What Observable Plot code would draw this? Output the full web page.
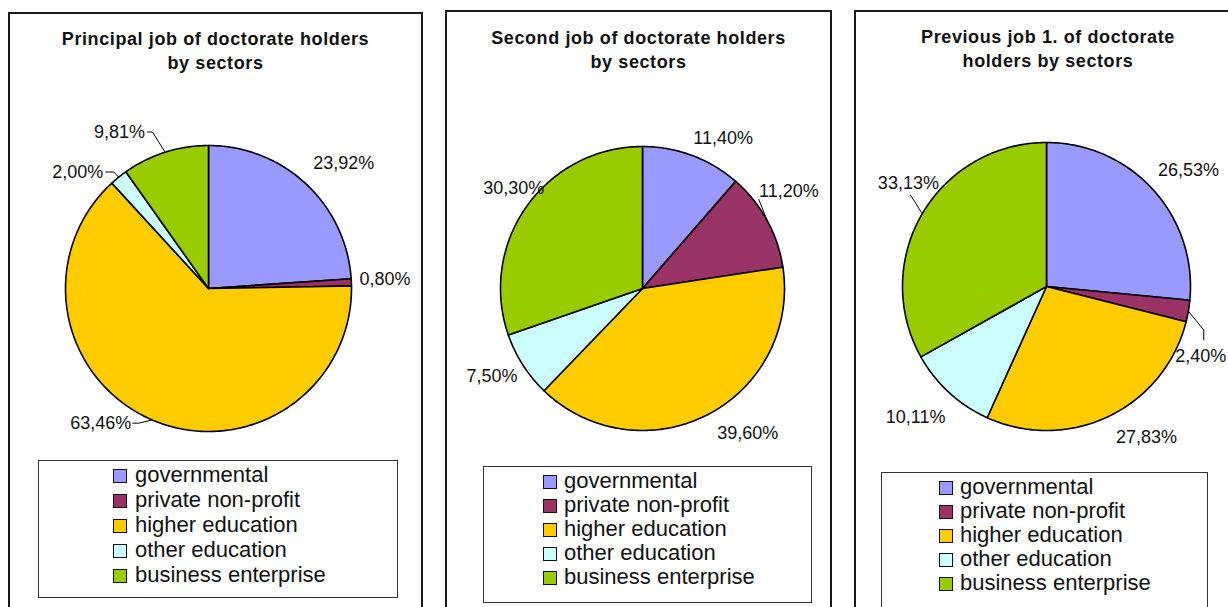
<!DOCTYPE html>
<html><head><meta charset="utf-8">
<script src="https://cdn.jsdelivr.net/npm/d3@7"></script>
<script src="https://cdn.jsdelivr.net/npm/@observablehq/plot@0.6"></script>
<style>
html,body{margin:0;padding:0;background:#fff;width:1228px;height:607px;overflow:hidden;font-family:"Liberation Sans",Arial,sans-serif;}
#root{position:relative;width:1228px;height:607px;overflow:hidden;}
.frame{position:absolute;border:2px solid #1c1c1c;border-bottom:none;box-sizing:border-box;height:700px;}
.title{position:absolute;text-align:center;font-weight:bold;font-size:18px;letter-spacing:0.6px;line-height:24px;color:#111;white-space:nowrap;}
.plot{position:absolute;top:0;}
.legend{position:absolute;border:1px solid #333;box-sizing:border-box;}
.row{position:absolute;font-size:22px;line-height:24px;color:#111;white-space:nowrap;}
.sw{position:absolute;width:14px;height:14px;border:1.5px solid #111;box-sizing:border-box;}
</style>
</head><body><div id="root"></div>
<script>
// ---------- data ----------
const sectors = ["governmental", "private non-profit", "higher education", "other education", "business enterprise"];
const sectorColors = ["#9999FF", "#993366", "#FFCC00", "#CCFFFF", "#99CC00"];
const principalJob = [23.92, 0.80, 63.46, 2.00, 9.81];
const secondJob = [11.40, 11.20, 39.60, 7.50, 30.30];
const previousJob1 = [26.53, 2.40, 27.83, 10.11, 33.13];
const chartTitles = [
  ["Principal job of doctorate holders", "by sectors"],
  ["Second job of doctorate holders", "by sectors"],
  ["Previous job 1. of doctorate", "holders by sectors"]
];
const chartValues = [principalJob, secondJob, previousJob1];

// ---------- layout ----------
const layout = [
  {frame: {left: 8, top: 12, width: 415}, titleY: 27, pie: {cx: 208, cy: 288, r: 143},
   legend: {left: 38, top: 460, width: 360, height: 138, swatchX: 113, textX: 135, rowY: 476, step: 25},
   nudges: [[18, 0], [5, -2], [-40, -23], [-23, 17], [-37, 7]],
   leaders: {2: [[32, 0], [38, 0]], 3: [[28, 0], [36, 0]], 4: [[28, 0], [33, 0]]}},
  {frame: {left: 445, top: 10, width: 387}, titleY: 26, pie: {cx: 642, cy: 288, r: 142},
   legend: {left: 483, top: 466, width: 329, height: 137, swatchX: 543, textX: 564, rowY: 482, step: 24},
   nudges: [[21, 9], [-3, -15], [27, -7], [-7, -4], [10, -1]],
   leaders: {1: [[-30, 8]]}},
  {frame: {left: 854, top: 10, width: 388}, titleY: 25, pie: {cx: 1046, cy: 286, r: 144},
   legend: {left: 881, top: 472, width: 327, height: 160, swatchX: 939, textX: 960, rowY: 488, step: 24},
   nudges: [[14, 0], [-16, 40], [25, -5], [-14, 3], [11, -16]],
   leaders: {1: [[3, -16], [3, -26]], 4: [[2, 12], [6, 18]]}}
];

const fmt = v => v.toFixed(2).replace(".", ",") + "%";
const root = document.getElementById("root");

chartValues.forEach((values, ci) => {
  const L = layout[ci];
  const {cx, cy, r} = L.pie;
  const left = L.frame.left;
  const W = L.frame.width;

  // frame
  const fr = document.createElement("div");
  fr.className = "frame";
  Object.assign(fr.style, {left: left + "px", top: L.frame.top + "px", width: W + "px"});
  root.appendChild(fr);

  // title
  const t = document.createElement("div");
  t.className = "title";
  Object.assign(t.style, {left: left + "px", width: W + "px", top: L.titleY + "px"});
  t.innerHTML = chartTitles[ci].join("<br>");
  root.appendChild(t);

  // slices
  const arcs = d3.pie().sort(null).value(d => d)(values);
  const slicePts = [];
  arcs.forEach((a, i) => {
    const n = Math.max(2, Math.ceil((a.endAngle - a.startAngle) / (Math.PI / 180)));
    slicePts.push({key: i, sector: sectors[i], x: 0, y: 0});
    for (let k = 0; k <= n; k++) {
      const ang = a.startAngle + (a.endAngle - a.startAngle) * k / n;
      slicePts.push({key: i, sector: sectors[i], x: Math.sin(ang), y: Math.cos(ang)});
    }
  });

  // labels
  const labels = arcs.map((a, i) => {
    const m = (a.startAngle + a.endAngle) / 2;
    const [nx, ny] = L.nudges[i];
    return {i, mid: m, text: fmt(values[i]), x: 1.2 * Math.sin(m) + nx / r, y: 1.2 * Math.cos(m) - ny / r};
  });

  // leader lines
  const leaderPts = [];
  Object.entries(L.leaders).forEach(([idx, offs]) => {
    const lab = labels[+idx];
    offs.forEach(([ox, oy]) => leaderPts.push({key: idx, x: lab.x + ox / r, y: lab.y - oy / r}));
    leaderPts.push({key: idx, x: Math.sin(lab.mid), y: Math.cos(lab.mid)});
  });

  const plot = Plot.plot({
    width: W, height: 607, margin: 0,
    x: {domain: [-1, 1], range: [cx - r - left, cx + r - left]},
    y: {domain: [-1, 1], range: [cy + r, cy - r]},
    color: {domain: sectors, range: sectorColors},
    axis: null,
    style: {background: "transparent", overflow: "visible"},
    marks: [
      Plot.line(slicePts, {x: "x", y: "y", z: "key", fill: "sector", stroke: "#000", strokeWidth: 1.6, strokeLinejoin: "round", curve: "linear-closed"}),
      Plot.line(leaderPts, {x: "x", y: "y", z: "key", stroke: "#000", strokeWidth: 1}),
      Plot.text(labels, {x: "x", y: "y", text: "text", fontSize: 18, fill: "#111", fontFamily: "Liberation Sans, Arial, sans-serif"})
    ]
  });
  plot.classList.add("plot");
  plot.style.left = left + "px";
  root.appendChild(plot);

  // legend
  const lg = L.legend;
  const box = document.createElement("div");
  box.className = "legend";
  Object.assign(box.style, {left: lg.left + "px", top: lg.top + "px", width: lg.width + "px", height: lg.height + "px"});
  root.appendChild(box);
  sectors.forEach((s, i) => {
    const yc = lg.rowY + i * lg.step;
    const sw = document.createElement("div");
    sw.className = "sw";
    Object.assign(sw.style, {left: lg.swatchX + "px", top: (yc - 7) + "px", background: sectorColors[i]});
    root.appendChild(sw);
    const tx = document.createElement("div");
    tx.className = "row";
    Object.assign(tx.style, {left: lg.textX + "px", top: (yc - 13) + "px"});
    tx.textContent = s;
    root.appendChild(tx);
  });
});
</script>
</body></html>
